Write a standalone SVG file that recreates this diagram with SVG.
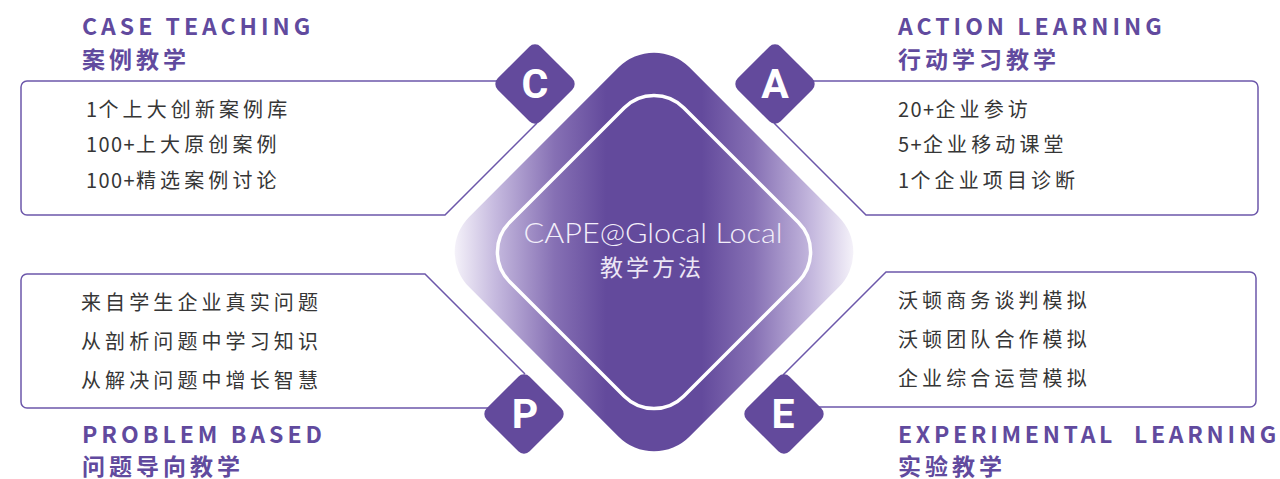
<svg xmlns="http://www.w3.org/2000/svg" width="1280" height="479" viewBox="0 0 1280 479">
<defs>
<linearGradient id="dg" gradientUnits="userSpaceOnUse" x1="455" y1="0" x2="853" y2="0">
<stop offset="0" stop-color="#f4f1f9"/>
<stop offset="0.1" stop-color="#c6badf"/>
<stop offset="0.25" stop-color="#8670b4"/>
<stop offset="0.38" stop-color="#634a9c"/>
<stop offset="0.62" stop-color="#634a9c"/>
<stop offset="0.75" stop-color="#8670b4"/>
<stop offset="0.9" stop-color="#c6badf"/>
<stop offset="1" stop-color="#f4f1f9"/>
</linearGradient>
<path id="badge" d="M-5.7,-37.3 A8,8 0 0 1 5.7,-37.3 L37.3,-5.7 A8,8 0 0 1 37.3,5.7 L5.7,37.3 A8,8 0 0 1 -5.7,37.3 L-37.3,5.7 A8,8 0 0 1 -37.3,-5.7 Z"/>
</defs>
<style>
.title{font-family:"Noto Sans CJK SC","Noto Sans",sans-serif;font-weight:700;font-size:23px;fill:#614a9e;letter-spacing:4px}
.body{font-family:"Noto Sans CJK SC","Noto Sans",sans-serif;font-size:20px;fill:#363636;letter-spacing:4.1px}
.num{letter-spacing:1.4px}
.frame{fill:none;stroke:#6c57aa;stroke-width:1.5}
.badge{fill:#634a9c}
.letter{font-family:Roboto,"Liberation Sans",sans-serif;font-weight:700;font-size:41px;fill:#ffffff;text-anchor:middle}
</style>
<rect width="1280" height="479" fill="#ffffff"/>

<g id="connectors">
<path class="frame" d="M500,81 L27,81 A6,6 0 0 0 21,87 L21,209 A6,6 0 0 0 27,215 L445,215 L537,123"/>
<path class="frame" d="M811,81 L1252,81 A6,6 0 0 1 1258,87 L1258,209 A6,6 0 0 1 1252,215 L866,215 L774,123"/>
<path class="frame" d="M491,408 L27,408 A6,6 0 0 1 21,402 L21,280 A6,6 0 0 1 27,274 L425,274 L525,374"/>
<path class="frame" d="M816,407 L1250,407 A6,6 0 0 0 1256,401 L1256,278 A6,6 0 0 0 1250,272 L886,272 L783,375"/>
</g>

<g id="center">
<path fill="url(#dg)" d="M618.64,67.36 A50,50 0 0 1 689.36,67.36 L838.64,216.64 A50,50 0 0 1 838.64,287.36 L689.36,436.64 A50,50 0 0 1 618.64,436.64 L469.36,287.36 A50,50 0 0 1 469.36,216.64 Z"/>
<path fill="none" stroke="#ffffff" stroke-width="3.5" d="M624.3,107.7 A42,42 0 0 1 683.7,107.7 L798.3,222.3 A42,42 0 0 1 798.3,281.7 L683.7,396.3 A42,42 0 0 1 624.3,396.3 L509.7,281.7 A42,42 0 0 1 509.7,222.3 Z"/>
<text x="653" y="243" text-anchor="middle" textLength="259" lengthAdjust="spacingAndGlyphs" font-family="Lato,'Noto Sans',sans-serif" font-weight="300" font-size="28" fill="#f3effa">CAPE@Glocal Local</text>
<text x="652" y="276" text-anchor="middle" font-family="'Noto Sans CJK SC',sans-serif" font-size="23" letter-spacing="3" fill="#ece6f5">教学方法</text>
</g>

<g id="case">
<use href="#badge" class="badge" x="535" y="84"/>
<text class="letter" x="535" y="98">C</text>
<text class="title" x="82" y="35">CASE TEACHING</text>
<text class="title" x="82" y="67.5">案例教学</text>
<text class="body" x="86" y="117"><tspan class="num">1</tspan>个上大创新案例库</text>
<text class="body" x="86" y="152"><tspan class="num">100+</tspan>上大原创案例</text>
<text class="body" x="86" y="188"><tspan class="num">100+</tspan>精选案例讨论</text>
</g>

<g id="action">
<use href="#badge" class="badge" x="775" y="84"/>
<text class="letter" x="775" y="98">A</text>
<text class="title" x="898" y="35">ACTION LEARNING</text>
<text class="title" x="898" y="67.5">行动学习教学</text>
<text class="body" x="898" y="117"><tspan class="num">20+</tspan>企业参访</text>
<text class="body" x="898" y="152"><tspan class="num">5+</tspan>企业移动课堂</text>
<text class="body" x="898" y="188"><tspan class="num">1</tspan>个企业项目诊断</text>
</g>

<g id="problem">
<use href="#badge" class="badge" x="524" y="414"/>
<text class="letter" x="525" y="428">P</text>
<text class="body" x="81" y="310">来自学生企业真实问题</text>
<text class="body" x="81" y="349">从剖析问题中学习知识</text>
<text class="body" x="81" y="388">从解决问题中增长智慧</text>
<text class="title" x="82" y="443">PROBLEM BASED</text>
<text class="title" x="82" y="474.5">问题导向教学</text>
</g>

<g id="experimental">
<use href="#badge" class="badge" x="784" y="414"/>
<text class="letter" x="783" y="428">E</text>
<text class="body" x="898" y="308">沃顿商务谈判模拟</text>
<text class="body" x="898" y="347">沃顿团队合作模拟</text>
<text class="body" x="898" y="386">企业综合运营模拟</text>
<text class="title" x="898" y="443" xml:space="preserve" style="letter-spacing:3.7px">EXPERIMENTAL  LEARNING</text>
<text class="title" x="898" y="474.5">实验教学</text>
</g>
</svg>
